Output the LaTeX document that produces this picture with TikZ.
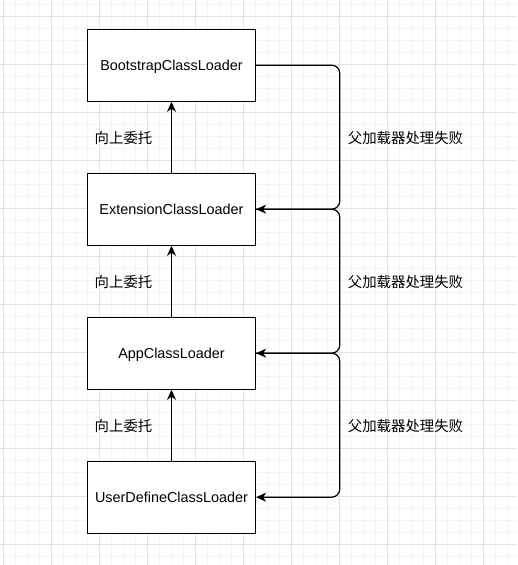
\documentclass[tikz,border=0pt]{standalone}
\usepackage{fontspec}
\setmainfont{Liberation Sans}
\newfontfamily\cjk{Noto Sans CJK SC}
\usetikzlibrary{arrows.meta}
\definecolor{gridminor}{RGB}{244,244,244}
\definecolor{gridmajor}{RGB}{226,226,226}
\tikzset{
  loaderbox/.style={draw=black, line width=1.2pt, fill=white, minimum width=168pt, minimum height=72pt, inner sep=0pt, text height=10.3pt, text depth=-1.2pt, font=\fontsize{14.4}{17}\selectfont},
  conn/.style={draw=black, line width=1.2pt, -{Stealth[length=10pt,width=9pt,inset=3pt]}},
  elbow/.style={conn, rounded corners=8pt},
  lbl/.style={font=\cjk\fontsize{14.4}{17}\selectfont, inner sep=0pt}
}
\begin{document}
\begin{tikzpicture}[x=1pt,y=-1pt]
\useasboundingbox (0,0) rectangle (517,565);
\fill[white] (0,0) rectangle (517,565);
% grid
\foreach \i in {0,...,43} {
  \draw[gridminor, line width=0.8pt] ({3.7+12*\i},0) -- ({3.7+12*\i},565);
}
\foreach \j in {0,...,47} {
  \draw[gridminor, line width=0.8pt] (0,{4.7+12*\j}) -- (517,{4.7+12*\j});
}
\foreach \i in {0,...,10} {
  \draw[gridmajor, line width=0.8pt] ({3.7+48*\i},0) -- ({3.7+48*\i},565);
}
\foreach \j in {0,...,11} {
  \draw[gridmajor, line width=0.8pt] (0,{16.7+48*\j}) -- (517,{16.7+48*\j});
}
% boxes
\node[loaderbox] (b1) at (171.5,65.2) {BootstrapClassLoader};
\node[loaderbox] (b2) at (171.5,209.2) {ExtensionClassLoader};
\node[loaderbox] (b3) at (171.5,353.2) {AppClassLoader};
\node[loaderbox] (b4) at (171.5,497.2) {UserDefineClassLoader};
\coordinate (bx) at (339.7,0);
% upward delegation
\draw[conn] (b2.north) -- (b1.south);
\draw[conn] (b3.north) -- (b2.south);
\draw[conn] (b4.north) -- (b3.south);
% failure returns
\draw[elbow] (b1.east) -- (b1.east -| bx) -- (b2.east -| bx) -- (b2.east);
\draw[elbow] (b2.east) -- (b2.east -| bx) -- (b3.east -| bx) -- (b3.east);
\draw[elbow] (b3.east) -- (b3.east -| bx) -- (b4.east -| bx) -- (b4.east);
% labels
\node[lbl] (u1) at (123.5,138.5) {向上委托};
\node[lbl] (u2) at (123.5,282.5) {向上委托};
\node[lbl] (u3) at (123.5,426.5) {向上委托};
\node[lbl] (f1) at (405.5,138.5) {父加载器处理失败};
\node[lbl] (f2) at (405.5,282.5) {父加载器处理失败};
\node[lbl] (f3) at (405.5,426.5) {父加载器处理失败};
\end{tikzpicture}
\end{document}
